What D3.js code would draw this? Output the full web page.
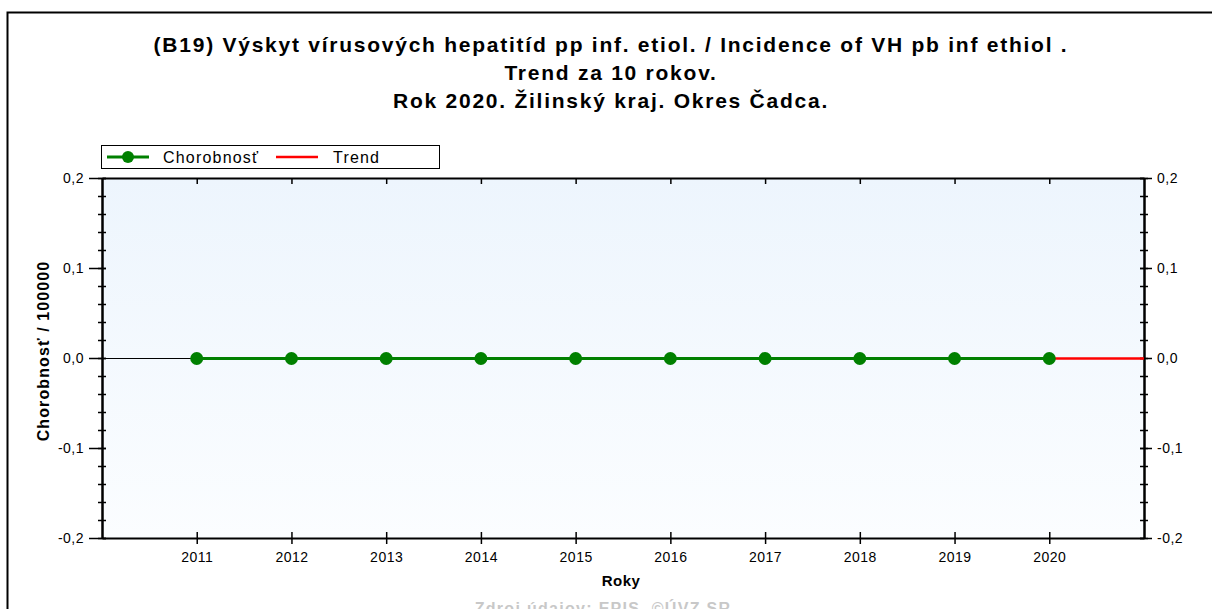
<!DOCTYPE html>
<html>
<head>
<meta charset="utf-8">
<script src="https://cdn.jsdelivr.net/npm/d3@7"></script>
<style>
html,body{margin:0;padding:0;background:#fff;}
svg{display:block;font-family:"Liberation Sans",Arial,sans-serif;}
</style>
</head>
<body>
<svg id="chart" width="1212" height="609"></svg>
<script>
const titleLines = [
  "(B19) Výskyt vírusových hepatitíd pp inf. etiol. / Incidence of VH pb inf ethiol .",
  "Trend za 10 rokov.",
  "Rok 2020. Žilinský kraj. Okres Čadca."
];
const years = [2011, 2012, 2013, 2014, 2015, 2016, 2017, 2018, 2019, 2020];
const morbidity = [0, 0, 0, 0, 0, 0, 0, 0, 0, 0];
const trendYears = [2020, 2021];
const trendValues = [0, 0];
const yTicks = [-0.2, -0.1, 0.0, 0.1, 0.2];
const xDomain = [2010, 2021];
const yDomain = [-0.2, 0.2];
const legendLabels = ["Chorobnosť", "Trend"];
const yAxisLabel = "Chorobnosť / 100000";
const xAxisLabel = "Roky";
const footer = "Zdroj údajov: EPIS, ©ÚVZ SR";

const svg = d3.select("#chart");
const L = 102, R = 1144, T = 178, B = 538;
const x = d3.scaleLinear().domain(xDomain).range([L, R]);
const y = d3.scaleLinear().domain(yDomain).range([B, T]);
const fmt = v => d3.format(".1f")(v).replace(".", ",").replace("−", "-");

// outer border
svg.append("rect").attr("x", 7.5).attr("y", 12.5).attr("width", 1400).attr("height", 800)
  .attr("fill", "none").attr("stroke", "#000").attr("stroke-width", 2);

// title
titleLines.forEach((t, i) => {
  svg.append("text").attr("x", 611).attr("y", 52 + i * 28).attr("text-anchor", "middle")
    .attr("font-size", 21).attr("font-weight", "bold").attr("letter-spacing", 1.75)
    .attr("fill", "#000").text(t);
});

// plot background gradient
const defs = svg.append("defs");
const grad = defs.append("linearGradient").attr("id", "bg").attr("x1", 0).attr("y1", 0).attr("x2", 0).attr("y2", 1);
grad.append("stop").attr("offset", "0%").attr("stop-color", "#edf5fd");
grad.append("stop").attr("offset", "100%").attr("stop-color", "#fbfdff");
svg.append("rect").attr("x", L).attr("y", T).attr("width", R - L).attr("height", B - T).attr("fill", "url(#bg)");

// zero baseline
svg.append("line").attr("x1", L).attr("x2", R).attr("y1", y(0) + 0.5).attr("y2", y(0) + 0.5)
  .attr("stroke", "#000").attr("stroke-width", 1);

const minorTicks = d3.range(-0.2, 0.2001, 0.02).map(v => +v.toFixed(2));
const yearTicks = years;

// top frame line and top ticks (inward)
svg.append("g").attr("transform", `translate(0,${T})`)
  .call(d3.axisTop(x).tickValues(yearTicks).tickSize(-6).tickSizeOuter(0).tickFormat(""));
// bottom axis
const bottomAxis = svg.append("g").attr("transform", `translate(0,${B})`)
  .call(d3.axisBottom(x).tickValues(yearTicks).tickSize(6).tickSizeOuter(0).tickFormat(d3.format("d")));
bottomAxis.selectAll(".tick line").attr("y1", -6).attr("y2", 6);
// left axis
const leftMinor = svg.append("g").attr("transform", `translate(${L},0)`)
  .call(d3.axisLeft(y).tickValues(minorTicks).tickSize(4).tickSizeOuter(0).tickFormat(""));
leftMinor.selectAll(".tick line").attr("x1", 4).attr("x2", -4);
const leftMajor = svg.append("g").attr("transform", `translate(${L},0)`)
  .call(d3.axisLeft(y).tickValues(yTicks).tickSize(13).tickPadding(5).tickSizeOuter(0).tickFormat(fmt));
leftMajor.selectAll(".tick line").attr("x1", 4);
// right axis
const rightMinor = svg.append("g").attr("transform", `translate(${R},0)`)
  .call(d3.axisRight(y).tickValues(minorTicks).tickSize(4).tickSizeOuter(0).tickFormat(""));
rightMinor.selectAll(".tick line").attr("x1", -4).attr("x2", 4);
const rightMajor = svg.append("g").attr("transform", `translate(${R},0)`)
  .call(d3.axisRight(y).tickValues(yTicks).tickSize(8).tickPadding(5).tickSizeOuter(0).tickFormat(fmt));
rightMajor.selectAll(".tick line").attr("x1", -4);

svg.selectAll(".domain").attr("stroke", "#000").attr("stroke-width", 2);
svg.selectAll(".tick line").attr("stroke", "#000").attr("stroke-width", 1.5);
svg.selectAll(".tick text").attr("font-size", 14).attr("letter-spacing", 0.5).attr("fill", "#000")
  .attr("font-family", "'Liberation Sans', Arial, sans-serif");
bottomAxis.selectAll(".tick text").attr("dy", "1.05em");

// series line
const line = d3.line().x((d, i) => x(years[i])).y(d => y(d) + 0.5);
svg.append("path").datum(morbidity).attr("d", line).attr("fill", "none")
  .attr("stroke", "#008000").attr("stroke-width", 3);
const tline = d3.line().x((d, i) => x(trendYears[i])).y(d => y(d) + 0.5);
svg.append("path").datum(trendValues).attr("d", tline).attr("fill", "none")
  .attr("stroke", "#ff0000").attr("stroke-width", 2.5);
svg.selectAll("circle.pt").data(morbidity).enter().append("circle").attr("class", "pt")
  .attr("cx", (d, i) => x(years[i])).attr("cy", d => y(d) + 0.5).attr("r", 6.5).attr("fill", "#008000");

// legend
const lg = svg.append("g");
lg.append("rect").attr("x", 101.5).attr("y", 145.5).attr("width", 338).attr("height", 23)
  .attr("fill", "#fff").attr("stroke", "#000").attr("stroke-width", 1);
lg.append("line").attr("x1", 107).attr("x2", 149).attr("y1", 157).attr("y2", 157)
  .attr("stroke", "#008000").attr("stroke-width", 3);
lg.append("circle").attr("cx", 128).attr("cy", 157).attr("r", 6).attr("fill", "#008000");
lg.append("text").attr("x", 163).attr("y", 163).attr("font-size", 16).attr("letter-spacing", 1.2)
  .attr("fill", "#000").text(legendLabels[0]);
lg.append("line").attr("x1", 276).attr("x2", 318).attr("y1", 157).attr("y2", 157)
  .attr("stroke", "#ff0000").attr("stroke-width", 2.5);
lg.append("text").attr("x", 333).attr("y", 163).attr("font-size", 16).attr("letter-spacing", 1.2)
  .attr("fill", "#000").text(legendLabels[1]);

// axis titles
svg.append("text").attr("x", 621).attr("y", 586).attr("text-anchor", "middle")
  .attr("font-size", 15).attr("font-weight", "bold").attr("letter-spacing", 0.5).text(xAxisLabel);
svg.append("text").attr("transform", `translate(49,351) rotate(-90)`).attr("text-anchor", "middle")
  .attr("font-size", 16).attr("font-weight", "bold").attr("letter-spacing", 1.1).text(yAxisLabel);

// footer
svg.append("text").attr("x", 603).attr("y", 614).attr("text-anchor", "middle")
  .attr("font-size", 16).attr("font-weight", "bold").attr("letter-spacing", 1.3)
  .attr("fill", "#c8c8c8").text(footer);
</script>
</body>
</html>
